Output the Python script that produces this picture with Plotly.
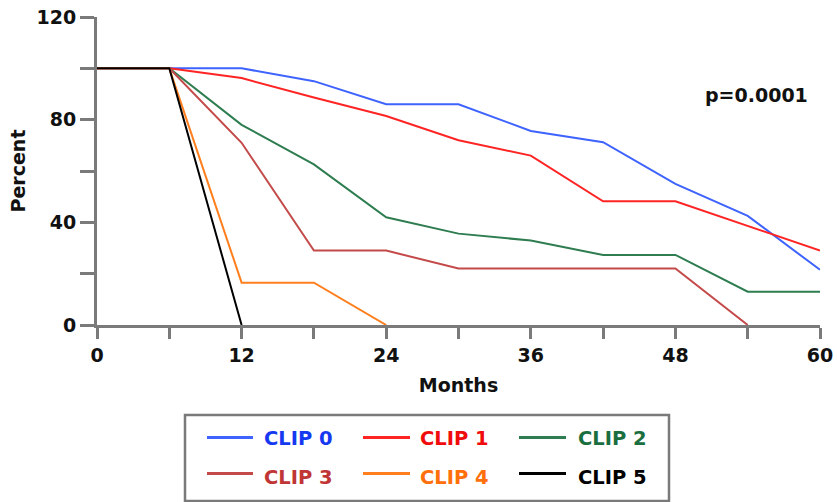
import plotly.graph_objects as go

months = [0, 6, 12, 18, 24, 30, 36, 42, 48, 54, 60]
clip0 = [100, 100, 100, 95, 86, 86, 75.6, 71.2, 55, 42.5, 21.5]
clip1 = [100, 100, 96.2, 88.6, 81.4, 72, 66, 48.2, 48.2, 38.6, 29]
clip2 = [100, 100, 78, 62.6, 42, 35.6, 32.9, 27.3, 27.3, 13, 13]
clip3 = [100, 100, 71, 29, 29, 22, 22, 22, 22, 0]
clip4 = [100, 100, 16.5, 16.5, 0]
clip5 = [100, 100, 0]

names = ["CLIP 0", "CLIP 1", "CLIP 2", "CLIP 3", "CLIP 4", "CLIP 5"]
series = [clip0, clip1, clip2, clip3, clip4, clip5]
line_colors = ["#3e63ff", "#ff2424", "#2e7d50", "#c44a4a", "#ff7f1e", "#000000"]
text_colors = ["#1538f0", "#f00c0c", "#1b6e3e", "#c03535", "#ff6f0a", "#000000"]

x_tickvals = [0, 6, 12, 18, 24, 30, 36, 42, 48, 54, 60]
x_ticktext = ["0", "", "12", "", "24", "", "36", "", "48", "", "60"]
y_tickvals = [0, 20, 40, 60, 80, 100, 120]
y_ticktext = ["0", "", "40", "", "80", "", "120"]

FONT = "DejaVu Sans"
AXIS = "#7a7a7a"
W, H = 837, 502
ML, MR, MT, MB = 97, 17, 17, 177
PW, PH = W - ML - MR, H - MT - MB


def px_x(p):
    return (p - ML) / PW


def px_y(p):
    return (H - MB - p) / PH


fig = go.Figure()
for i, (nm, ys) in enumerate(zip(names, series)):
    fig.add_trace(go.Scatter(
        x=months[:len(ys)], y=ys, mode="lines", name=nm,
        line=dict(color=line_colors[i], width=2),
        cliponaxis=False, showlegend=False,
    ))

fig.update_layout(
    width=W, height=H, autosize=False,
    margin=dict(l=ML, r=MR, t=MT, b=MB),
    plot_bgcolor="white", paper_bgcolor="white",
    font=dict(family=FONT, size=19, color="#111111", weight="bold"),
    xaxis=dict(
        range=[0, 60], tickvals=x_tickvals, ticktext=x_ticktext,
        showgrid=False, zeroline=False, showline=True, automargin=False,
        linecolor=AXIS, linewidth=3, ticks="outside", ticklen=11,
        tickwidth=3, tickcolor=AXIS,
        tickfont=dict(family=FONT, size=19, color="#111111", weight="bold"),
        title=dict(text="Months", font=dict(family=FONT, size=19, weight="bold"), standoff=14),
    ),
    yaxis=dict(
        range=[0, 120], tickvals=y_tickvals, ticktext=y_ticktext,
        showgrid=False, zeroline=False, showline=True, automargin=False,
        linecolor=AXIS, linewidth=3, ticks="outside", ticklen=14,
        tickwidth=3, tickcolor=AXIS,
        tickfont=dict(family=FONT, size=19, color="#111111", weight="bold"),
        title=dict(text="Percent", font=dict(family=FONT, size=19, weight="bold"), standoff=6),
    ),
    showlegend=False,
)

# Legend box
fig.add_shape(
    type="rect", xref="paper", yref="paper",
    x0=px_x(185), x1=px_x(669), y0=px_y(501), y1=px_y(415),
    line=dict(color="#7a7a7a", width=2.5), fillcolor="rgba(0,0,0,0)",
)

# Legend entries (3 columns x 2 rows)
col_line = [(207, 253), (363, 410), (519, 566)]
col_text = [262, 418, 576]
row_line = [437.5, 473.5]
row_text = [438.5, 477]
for i, nm in enumerate(names):
    r, c = divmod(i, 3)
    fig.add_shape(
        type="line", xref="paper", yref="paper",
        x0=px_x(col_line[c][0]), x1=px_x(col_line[c][1]),
        y0=px_y(row_line[r]), y1=px_y(row_line[r]),
        line=dict(color=line_colors[i], width=3),
    )
    fig.add_annotation(
        x=px_x(col_text[c]), y=px_y(row_text[r]), xref="paper", yref="paper",
        text=nm, showarrow=False, xanchor="left", yanchor="middle",
        font=dict(family=FONT, size=19.5, color=text_colors[i], weight="bold"),
    )

fig.add_annotation(
    x=59.2, y=89.6, xref="x", yref="y", text="p=0.0001",
    showarrow=False, xanchor="right", yanchor="middle",
    font=dict(family=FONT, size=19, color="#111111", weight="bold"),
)

fig.write_html(
    "out.html",
    config={"displayModeBar": False},
    post_script="document.body.style.margin='0';document.body.style.overflow='hidden';",
)
